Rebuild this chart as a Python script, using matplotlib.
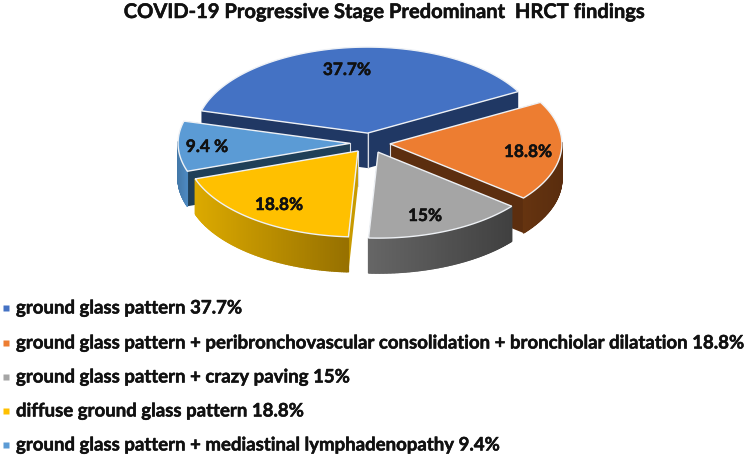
import numpy as np
import matplotlib
matplotlib.use("Agg")
import matplotlib.pyplot as plt
import matplotlib.patheffects as pe
from matplotlib.collections import PolyCollection
from matplotlib.colors import to_rgb
from matplotlib.patches import Polygon

plt.rcParams['font.family'] = ['Lato', 'DejaVu Sans']

title = "COVID-19 Progressive Stage Predominant  HRCT findings"
values = [37.7, 18.8, 15, 18.8, 9.4]
pie_labels = ["37.7%", "18.8%", "15%", "18.8%", "9.4 %"]
legend_labels = [
    "ground glass pattern 37.7%",
    "ground glass pattern + peribronchovascular consolidation + bronchiolar dilatation 18.8%",
    "ground glass pattern + crazy paving 15%",
    "diffuse ground glass pattern 18.8%",
    "ground glass pattern + mediastinal lymphadenopathy 9.4%",
]
colors = ['#4472c4', '#ed7d31', '#a5a5a5', '#ffc000', '#5b9bd5']
face_colors = ['#203864', '#5c2e0f', '#4a4a4a', '#c89a00', '#1f3f58']
# wall colour at left and right end of the outer side
wall_colors = [('#203864', '#203864'), ('#663410', '#5a2d0e'), ('#666666', '#404040'),
               ('#dcaa00', '#967000'), ('#4378a8', '#4c88c0')]

# pie geometry in pixels
cx, cy = 370, 143
rx, ry = 172, 86
explode = 0.116
depth = 35
start_angle = 165

# makes the bold font a little heavier
heavy = [pe.withStroke(linewidth=0.35, foreground='#111111')]


def point(x0, y0, deg, dy=0):
    t = np.radians(deg)
    return x0 + rx * np.cos(t), y0 - ry * np.sin(t) + dy


fig = plt.figure(figsize=(7.49, 4.58), dpi=100)
ax = fig.add_axes([0, 0, 1, 1])
ax.set_xlim(0, 749)
ax.set_ylim(458, 0)
ax.axis('off')

# slice angles, going clockwise from the left edge of the big slice
shares = np.array(values) / sum(values) * 360
ends = start_angle - np.cumsum(shares)
starts = ends + shares


def draw_slice(i, z):
    a1, a2 = starts[i], ends[i]
    mid = np.radians((a1 + a2) / 2)
    x0 = cx + explode * rx * np.cos(mid)
    y0 = cy - explode * ry * np.sin(mid)

    # flat cut faces first
    for a in (a1, a2):
        px, py = point(x0, y0, a)
        ax.add_patch(Polygon([(x0, y0), (px, py), (px, py + depth), (x0, y0 + depth)],
                             closed=True, fc=face_colors[i], ec='none', zorder=z))
    ax.plot([x0, x0], [y0, y0 + depth], color='#d8dce4', lw=0.8, zorder=z)

    # outer wall, only the part that looks towards us
    angs = np.linspace(a2, a1, 120)
    angs = angs[np.sin(np.radians(angs)) < 0.02]
    if len(angs) > 1:
        xs, ys = point(x0, y0, angs)
        quads = [[(xs[k], ys[k]), (xs[k + 1], ys[k + 1]),
                  (xs[k + 1], ys[k + 1] + depth), (xs[k], ys[k] + depth)]
                 for k in range(len(angs) - 1)]
        left, right = wall_colors[i]
        left, right = np.array(to_rgb(left)), np.array(to_rgb(right))
        f = (xs[:-1] - xs.min()) / max(np.ptp(xs), 1)
        cols = [tuple(left + (right - left) * v) for v in f]
        ax.add_collection(PolyCollection(quads, facecolors=cols, edgecolors=cols,
                                         linewidths=1.0, zorder=z))

    # top of the slice
    angs = np.linspace(a1, a2, 120)
    xs, ys = point(x0, y0, angs)
    verts = [(x0, y0)] + list(zip(xs, ys))
    ax.add_patch(Polygon(verts, closed=True, fc=colors[i], ec='#eef1f5', lw=1.0,
                         joinstyle='miter', zorder=z))


# back to front
for z, i in enumerate([0, 4, 1, 2, 3]):
    draw_slice(i, z)

label_pos = [(347, 70), (528, 152), (425, 216), (279, 205), (207, 147)]
for (lx, ly), lab in zip(label_pos, pie_labels):
    ax.text(lx, ly, lab, ha='center', va='center', fontsize=12.4, fontweight='bold',
            color='#111111', zorder=20, path_effects=heavy)

ax.text(384, 12, title, ha='center', va='center', fontsize=14.5, fontweight='bold',
        color='#111111', path_effects=heavy)

legend_y = [308, 343, 377, 411, 445]
for y, lab, c in zip(legend_y, legend_labels, colors):
    ax.plot([6], [y], marker='s', ms=4.4, mec='none', color=c)
    ax.text(16, y, lab, ha='left', va='center', fontsize=13.4, fontweight='bold',
            color='#111111', path_effects=heavy)

fig.savefig('out.png', dpi=100)
